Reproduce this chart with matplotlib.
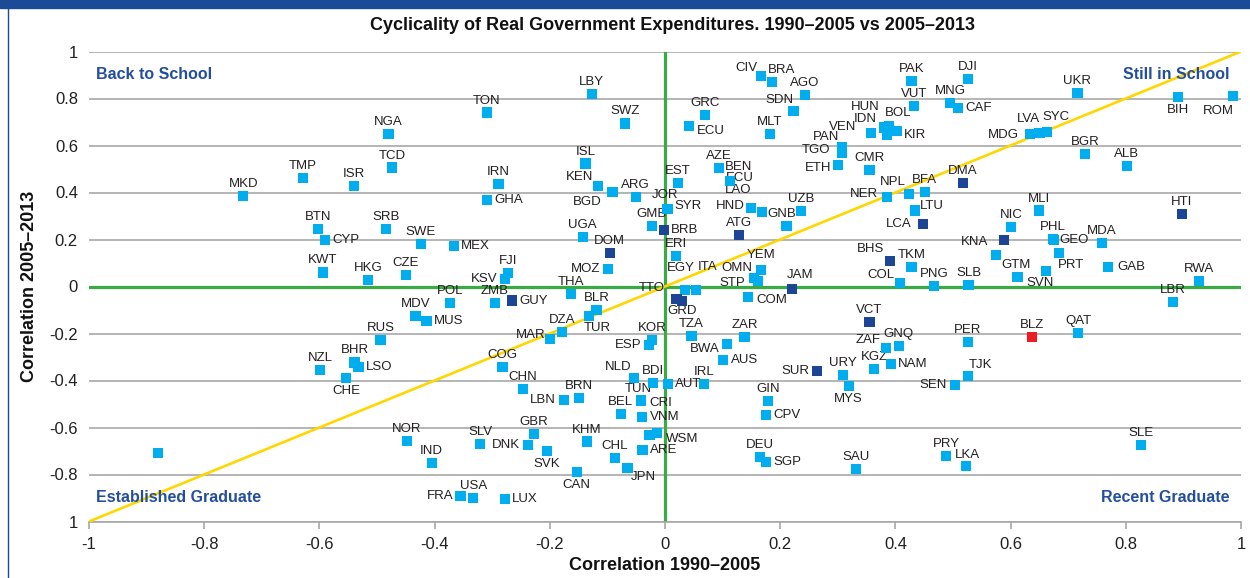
import matplotlib
matplotlib.use("Agg")
import matplotlib.pyplot as plt
from matplotlib import font_manager
from matplotlib.patches import Rectangle
from matplotlib.lines import Line2D
import numpy as np

# ---------------- data ----------------
codes = ["MKD", "TMP", "BTN", "CYP", "KWT", "NGA", "TON", "LBY", "SWZ", "TCD",
         "ISR", "IRN", "GHA", "ISL", "KEN", "BGD", "ARG", "SRB", "SWE", "MEX",
         "HKG", "CZE", "FJI", "KSV", "UGA", "DOM", "MOZ", "THA", "CIV", "BRA",
         "AGO", "SDN", "GRC", "ECU", "MLT", "PAK", "VUT", "IDN", "HUN", "BOL",
         "KIR", "_1", "VEN", "PAN", "TGO", "ETH", "CMR", "AZE", "BEN", "ECU#2",
         "LAO", "HND", "GNB", "_2", "UZB", "EST", "JOR", "SYR", "GMB", "BRB",
         "ERI", "EGY", "ITA", "TTO", "GRD", "ATG", "YEM", "OMN", "STP", "JAM",
         "COM", "NER", "NPL", "BFA", "LTU", "LCA", "BHS", "TKM", "COL", "DJI",
         "MNG", "CAF", "UKR", "BIH", "ROM", "MDG", "LVA", "SYC", "BGR", "ALB",
         "DMA", "MLI", "HTI", "NIC", "KNA", "PHL", "GEO", "PRT", "GTM", "SVN",
         "_3", "MDA", "GAB", "RWA", "PNG", "SLB", "_4", "NZL", "POL", "ZMB",
         "GUY", "MDV", "MUS", "BLR", "TUR", "DZA", "MAR", "RUS", "BHR", "LSO",
         "CHE", "COG", "CHN", "LBN", "BRN", "BEL", "NOR", "IND", "SLV", "GBR",
         "DNK", "SVK", "KHM", "CHL", "CAN", "FRA", "USA", "LUX", "JPN", "TZA",
         "ZAR", "BWA", "AUS", "KOR", "ESP", "NLD", "BDI", "AUT", "IRL", "TUN",
         "CRI", "VNM", "_5", "WSM", "ARE", "GIN", "CPV", "DEU", "SGP", "SAU",
         "SUR", "URY", "MYS", "VCT", "ZAF", "GNQ", "KGZ", "NAM", "LBR", "BLZ",
         "QAT", "PER", "TJK", "SEN", "SLE", "PRY", "LKA"]

corr_1990_2005 = [-0.732, -0.629, -0.602, -0.590, -0.594, -0.480, -0.309, -0.127, -0.069, -0.474,
                  -0.540, -0.289, -0.309, -0.138, -0.117, -0.091, -0.051, -0.484, -0.424, -0.367,
                  -0.516, -0.450, -0.273, -0.278, -0.143, -0.096, -0.099, -0.163, 0.167, 0.186,
                  0.243, 0.223, 0.069, 0.042, 0.182, 0.428, 0.432, 0.357, 0.381, 0.389,
                  0.402, 0.385, 0.307, 0.307, 0.307, 0.300, 0.355, 0.094, 0.113, 0.113,
                  0.149, 0.149, 0.168, 0.211, 0.236, 0.022, 0.003, 0.005, -0.023, -0.002,
                  0.019, 0.035, 0.054, 0.020, 0.029, 0.128, 0.166, 0.155, 0.162, 0.220,
                  0.144, 0.385, 0.424, 0.451, 0.434, 0.448, 0.390, 0.428, 0.408, 0.526,
                  0.495, 0.508, 0.716, 0.890, 0.986, 0.634, 0.650, 0.663, 0.729, 0.802,
                  0.517, 0.649, 0.897, 0.601, 0.589, 0.673, 0.675, 0.684, 0.574, 0.612,
                  0.661, 0.759, 0.769, 0.927, 0.467, 0.527, -0.880, -0.599, -0.373, -0.295,
                  -0.266, -0.433, -0.414, -0.119, -0.132, -0.179, -0.200, -0.494, -0.539, -0.532,
                  -0.554, -0.282, -0.247, -0.176, -0.149, -0.077, -0.448, -0.405, -0.321, -0.227,
                  -0.238, -0.205, -0.136, -0.087, -0.153, -0.355, -0.333, -0.278, -0.065, 0.046,
                  0.138, 0.107, 0.101, -0.023, -0.028, -0.054, -0.021, 0.005, 0.068, -0.042,
                  -0.041, -0.040, -0.027, -0.014, -0.039, 0.179, 0.175, 0.165, 0.175, 0.331,
                  0.264, 0.309, 0.319, 0.355, 0.383, 0.406, 0.363, 0.392, 0.882, 0.637,
                  0.717, 0.526, 0.526, 0.503, 0.826, 0.488, 0.523]

corr_2005_2013 = [0.386, 0.463, 0.246, 0.198, 0.060, 0.649, 0.740, 0.820, 0.694, 0.506,
                  0.429, 0.436, 0.369, 0.523, 0.429, 0.403, 0.380, 0.246, 0.182, 0.172,
                  0.029, 0.050, 0.056, 0.032, 0.212, 0.144, 0.073, -0.032, 0.897, 0.871,
                  0.816, 0.748, 0.731, 0.684, 0.649, 0.876, 0.769, 0.654, 0.677, 0.683,
                  0.663, 0.645, 0.594, 0.581, 0.568, 0.518, 0.497, 0.503, 0.450, 0.450,
                  0.335, 0.335, 0.316, 0.259, 0.321, 0.442, 0.331, 0.329, 0.259, 0.242,
                  0.131, -0.015, -0.015, -0.054, -0.062, 0.219, 0.070, 0.035, 0.023, -0.011,
                  -0.043, 0.382, 0.392, 0.403, 0.323, 0.265, 0.109, 0.084, 0.016, 0.884,
                  0.782, 0.761, 0.822, 0.808, 0.812, 0.649, 0.654, 0.659, 0.565, 0.514,
                  0.442, 0.323, 0.307, 0.254, 0.198, 0.202, 0.198, 0.144, 0.134, 0.042,
                  0.066, 0.186, 0.084, 0.025, 0.002, 0.005, -0.709, -0.357, -0.069, -0.069,
                  -0.060, -0.124, -0.147, -0.099, -0.124, -0.192, -0.222, -0.226, -0.323, -0.343,
                  -0.391, -0.341, -0.437, -0.482, -0.473, -0.541, -0.656, -0.750, -0.671, -0.629,
                  -0.676, -0.699, -0.660, -0.729, -0.788, -0.890, -0.900, -0.903, -0.772, -0.209,
                  -0.214, -0.243, -0.314, -0.226, -0.248, -0.389, -0.409, -0.414, -0.416, -0.482,
                  -0.485, -0.557, -0.631, -0.622, -0.696, -0.486, -0.547, -0.724, -0.746, -0.775,
                  -0.358, -0.375, -0.423, -0.150, -0.262, -0.252, -0.350, -0.329, -0.065, -0.214,
                  -0.199, -0.235, -0.380, -0.418, -0.673, -0.720, -0.763]

# highlighted groups
dark_codes = ["DOM", "BRB", "TTO", "GRD", "ATG", "JAM", "LCA", "BHS", "DMA", "HTI",
              "KNA", "GUY", "SUR", "VCT"]
red_codes = ["BLZ"]

x_ticks = [-1, -0.8, -0.6, -0.4, -0.2, 0, 0.2, 0.4, 0.6, 0.8, 1]
x_tick_labels = ["-1", "-0.8", "-0.6", "-0.4", "-0.2", "0", "0.2", "0.4", "0.6", "0.8", "1"]
y_ticks = [-1, -0.8, -0.6, -0.4, -0.2, 0, 0.2, 0.4, 0.6, 0.8, 1]
y_tick_labels = ["1", "-0.8", "-0.6", "-0.4", "-0.2", "0", "0.2", "0.4", "0.6", "0.8", "1"]

title = "Cyclicality of Real Government Expenditures. 1990\u20132005 vs 2005\u20132013"
xlabel = "Correlation 1990\u20132005"
ylabel = "Correlation 2005\u20132013"
quadrants = ["Back to School", "Still in School", "Established Graduate", "Recent Graduate"]

# ---------------- label layout (pixel offsets) ----------------
presets = {"n": (0, 12, "center"), "s": (0, -13, "center"),
           "e": (7.5, 0, "left"), "w": (-7.5, 0, "right")}
place = {
    "CYP": "e", "GHA": "e", "MEX": "e", "KSV": "w", "MOZ": "w", "CAF": "e", "BIH": "s",
    "KEN": (-17.7, 9), "BGD": (-25, -10), "CIV": (-14.3, 7.4), "BRA": (9.7, 11.7),
    "SDN": (-13.7, 10.7), "ECU": (8, -5, "left"), "IDN": (-5.7, 13.7), "HUN": (-19.3, 20.3),
    "BOL": (8.7, 13), "KIR": (7, -4.3, "left"), "VEN": (1, 20), "PAN": (-16, 13),
    "TGO": (-12, 3, "right"), "ETH": (-6, -3, "right"), "BEN": (8, 14),
    "ECU#2": (-4, 3, "left"), "LAO": (-13, 18), "HND": (-6, 2, "right"),
    "GNB": (6, -2, "left"), "JOR": (-2, 14), "SYR": (7, 3, "left"), "BRB": "e",
    "EGY": (-4, 22), "ITA": (11, 23), "TTO": (-25, 11), "GRD": (0, -10),
    "YEM": (1, 15), "OMN": (-17.6, 10), "STP": (-13, -1.7, "right"), "JAM": (8, 14),
    "COM": (8, -3, "left"), "NER": (-9, 3, "right"), "NPL": (-16, 12.6),
    "LTU": (5, 4.7, "left"), "LCA": (-11.6, 0, "right"), "BHS": (-19, 11.7),
    "COL": (-19, 7.7), "ROM": (-14.4, -15), "MDG": (-11.7, -1, "right"),
    "LVA": (-11, 13.7), "SYC": (9.3, 14.4), "KNA": (-16, -2, "right"),
    "GEO": (6, 0, "left"), "PRT": (-1, -12, "left"), "GTM": (6, -10, "left"),
    "SVN": (9, -6.5, "left"), "GAB": (9, 0, "left"), "GUY": "e", "MUS": "e",
    "TUR": (8, -12.6), "MAR": (-4, 4, "right"), "LSO": "e", "CHE": "s", "LBN": "w",
    "DNK": "w", "SVK": "s", "CAN": "s", "FRA": "w", "LUX": "e", "JPN": (16, -8.7),
    "BWA": (-6.7, -5, "right"), "AUS": "e", "ESP": "w", "NLD": (-15.4, 11.3),
    "AUT": "e", "TUN": (-2, 11), "CRI": (8, -3, "left"), "VNM": "e",
    "WSM": (9, -6.6, "left"), "ARE": "e", "CPV": "e", "SGP": "e", "SUR": "w",
    "MYS": "s", "ZAF": (-17.4, 8), "NAM": "e", "TJK": (12.7, 10.7), "SEN": "w",
    "LKA": (1, 11),
}

# ---------------- style ----------------
names = {f.name for f in font_manager.fontManager.ttflist}
NARROW = "Liberation Sans Narrow" if "Liberation Sans Narrow" in names else "Liberation Sans"
plt.rcParams["font.family"] = [NARROW, "DejaVu Sans"]

LIGHT = "#00AEEF"
DARK = "#1D4595"
RED = "#ED1C24"
GREEN = "#3AAA45"
YELLOW = "#FFD700"
GRID = "#A8A8A8"
TEXT = "#231F20"
NAVY = "#234E9C"

W, H = 1250, 578
fig = plt.figure(figsize=(W / 100, H / 100), dpi=100)
fig.patch.set_facecolor("white")

ax = fig.add_axes([89 / W, 1 - 521.5 / H, 1152 / W, 470 / H])
ax.set_xlim(-1, 1)
ax.set_ylim(-1, 1)

ax.set_yticks(y_ticks)
ax.set_yticklabels(y_tick_labels)
ax.set_xticks(x_ticks)
ax.set_xticklabels(x_tick_labels)
ax.yaxis.grid(True, color=GRID, lw=1.2, zorder=0)
ax.set_axisbelow(True)
for s in ["top", "left", "right"]:
    ax.spines[s].set_visible(False)
ax.spines["bottom"].set_color(GRID)
ax.spines["bottom"].set_linewidth(1.2)
ax.tick_params(axis="y", length=0, pad=8, labelsize=12, labelcolor=TEXT)
ax.tick_params(axis="x", length=5, width=1.2, color=GRID, pad=6, labelsize=12, labelcolor=TEXT)

ax.axhline(0, color=GREEN, lw=2.3, zorder=2)
ax.axvline(0, color=GREEN, lw=2.3, zorder=2)
ax.axline((0, 0), slope=1, color=YELLOW, lw=1.9, zorder=3)

xs = np.array(corr_1990_2005)
ys = np.array(corr_2005_2013)
colors = [RED if c in red_codes else (DARK if c in dark_codes else LIGHT) for c in codes]
ax.scatter(xs, ys, marker="s", s=54, c=colors, linewidths=0, zorder=6)

for c, x, y in zip(codes, xs, ys):
    if c.startswith("_"):
        continue
    p = place.get(c, "n")
    if isinstance(p, str):
        dx, dy, ha = presets[p]
    elif len(p) == 2:
        dx, dy, ha = p[0], p[1], "center"
    else:
        dx, dy, ha = p
    ax.annotate(c.split("#")[0], (x, y), xytext=(dx, dy), textcoords="offset pixels",
                ha=ha, va="center", fontsize=9.5, color=TEXT, zorder=5)

qkw = dict(transform=ax.transAxes, fontsize=11.5, fontweight="bold", color=NAVY,
           va="center", zorder=7)
ax.text(0.006, 0.952, quadrants[0], ha="left", **qkw)
ax.text(0.990, 0.952, quadrants[1], ha="right", **qkw)
ax.text(0.006, 0.050, quadrants[2], ha="left", **qkw)
ax.text(0.990, 0.050, quadrants[3], ha="right", **qkw)

fig.text(673 / W, 1 - 25 / H, title, ha="center", va="center", fontsize=13,
         fontweight="bold", color="#111111")
fig.text(665 / W, 1 - 566 / H, xlabel, ha="center", va="center", fontsize=13,
         fontweight="bold", color="#111111")
fig.text(30 / W, 1 - 286 / H, ylabel, ha="center", va="center", fontsize=13,
         fontweight="bold", color="#111111", rotation=90)

fig.patches.append(Rectangle((0, 1 - 8 / H), 1, 8 / H, transform=fig.transFigure,
                             color="#1B4A97", zorder=10))
fig.lines.append(Line2D([7.5 / W, 7.5 / W], [0, 1 - 8 / H], transform=fig.transFigure,
                        color="#1B4A97", lw=1.0))

fig.savefig("out.png", dpi=100, facecolor="white")
